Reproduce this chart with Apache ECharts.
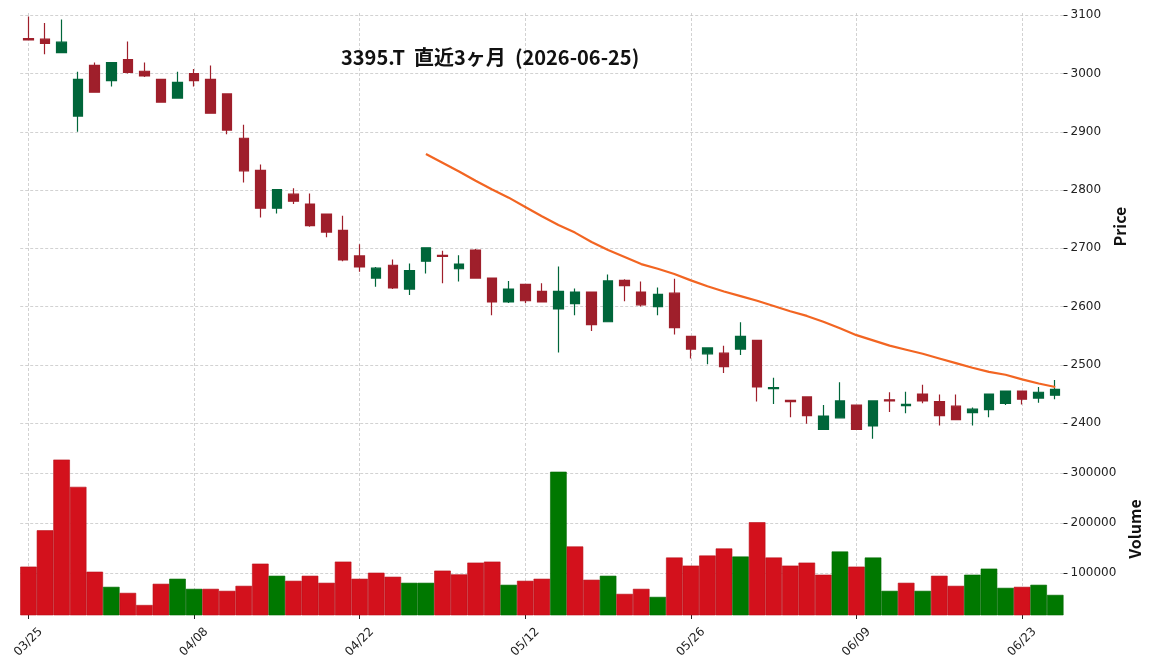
<!DOCTYPE html>
<html>
<head>
<meta charset="utf-8">
<title>3395.T</title>
<script src="https://cdn.jsdelivr.net/npm/echarts@6.0.0/dist/echarts.min.js"></script>
<style>
  html, body { margin: 0; padding: 0; background: #fff; }
  #chart { width: 1152px; height: 672px; }
</style>
</head>
<body>
<div id="chart"></div>
<script>
// 日付（取引日）
var dates = ['03/25','03/26','03/27','03/30','03/31','04/01','04/02','04/03','04/06','04/07',
  '04/08','04/09','04/10','04/13','04/14','04/15','04/16','04/17','04/20','04/21',
  '04/22','04/23','04/24','04/27','04/28','04/30','05/01','05/07','05/08','05/11',
  '05/12','05/13','05/14','05/15','05/18','05/19','05/20','05/21','05/22','05/25',
  '05/26','05/27','05/28','05/29','06/01','06/02','06/03','06/04','06/05','06/08',
  '06/09','06/10','06/11','06/12','06/15','06/16','06/17','06/18','06/19','06/22',
  '06/23','06/24','06/25'];

var opens = [3060,3059,3036,2927,3014,2988,3024,3004,2990,2958,
  3000,2990,2965,2889,2834,2769,2793,2776,2759,2731,
  2687,2649,2671,2630,2678,2688,2665,2697,2649,2608,
  2638,2626,2596,2605,2625,2574,2645,2625,2600,2623,
  2549,2519,2520,2527,2542,2459,2439,2445,2389,2409,
  2431,2395,2440,2430,2450,2437,2429,2418,2423,2434,
  2455,2443,2448];
var closes = [3058,3052,3054,2990,2968,3019,3002,2996,2951,2985,
  2988,2932,2903,2833,2769,2801,2781,2739,2728,2680,
  2668,2666,2632,2662,2701,2686,2673,2649,2608,2630,
  2610,2608,2626,2625,2569,2644,2636,2603,2621,2564,
  2527,2529,2497,2549,2462,2461,2437,2413,2412,2438,
  2389,2438,2438,2432,2438,2413,2406,2424,2450,2455,
  2441,2453,2458];
var lows = [3057,3033,3036,2900,2967,2978,3000,2994,2951,2958,
  2978,2932,2896,2813,2753,2760,2776,2737,2719,2678,
  2660,2634,2630,2620,2657,2640,2643,2649,2585,2606,
  2606,2608,2521,2585,2558,2574,2609,2600,2585,2552,
  2511,2501,2486,2517,2437,2433,2410,2399,2389,2409,
  2389,2373,2419,2417,2434,2396,2405,2396,2410,2431,
  2432,2435,2441];
var highs = [3098,3087,3093,3003,3019,3020,3055,3019,2990,3003,
  3008,3014,2966,2912,2844,2802,2803,2794,2760,2756,
  2707,2668,2681,2674,2701,2696,2688,2699,2650,2644,
  2639,2640,2669,2631,2626,2655,2647,2643,2633,2648,
  2549,2530,2533,2573,2543,2478,2440,2446,2431,2470,
  2431,2438,2453,2454,2466,2449,2449,2427,2451,2456,
  2456,2462,2474];

// 25日移動平均（24日目から）
var ma25 = [2862,2847,2832,2816,2801,2787,2771,2755,2740,2727,
  2711,2697,2685,2673,2665,2656,2645,2635,2626,2618,
  2610,2601,2592,2584,2574,2563,2551,2542,2533,2526,
  2519,2511,2503,2495,2488,2483,2475,2468,2462];
var maStart = 24;

var volumes = [112700,185400,326800,272300,102600,72300,60200,36000,78400,88500,
  68300,68300,64300,74300,118700,94500,84400,94500,80400,122800,
  88500,100600,92500,80400,80400,104700,97200,120800,122800,76400,
  84400,88500,302600,153100,86500,94500,58200,68300,52200,130900,
  114700,134900,149100,132900,201600,130900,114700,120800,96600,143000,
  112700,130900,64300,80400,64300,94500,74300,96600,108700,70300,
  72300,76400,56200];
// 1 = 前日比上昇（緑）, 0 = 下落（赤）
var volUp = [0,0,0,0,0,1,0,0,0,1,
  1,0,0,0,0,1,0,0,0,0,
  0,0,0,1,1,0,0,0,0,1,
  0,0,1,0,0,1,0,0,1,0,
  0,0,0,1,0,0,0,0,0,1,
  0,1,1,0,1,0,0,1,1,1,
  0,1,1];

var priceTicks = [2400,2500,2600,2700,2800,2900,3000,3100];
var volTicks = [100000,200000,300000];

var chart = echarts.init(document.getElementById('chart'));

var gridLine = { type: [3, 2], color: '#c6c6c6', width: 0.8 };
var tickFont = { fontFamily: 'DejaVu Sans', fontSize: 12, color: '#222' };
var nameFont = { fontFamily: 'Noto Sans CJK JP', fontWeight: 'bold', fontSize: 16, color: '#111' };
var plain = function (v) { return String(v); };

var candleData = dates.map(function (d, i) {
  return [opens[i], closes[i], lows[i], highs[i]];
});
var maData = dates.map(function (d, i) {
  return i < maStart ? null : ma25[i - maStart];
});
var volData = volumes.map(function (v, i) {
  return { value: v, itemStyle: { color: volUp[i] ? '#007800' : '#d3111c', borderColor: volUp[i] ? '#006a00' : '#b80f18' } };
});

var option = {
  animation: false,
  backgroundColor: '#fff',
  title: {
    text: '3395.T  直近3ヶ月  (2026-06-25)',
    left: 341, top: 47, padding: 0,
    textStyle: { fontFamily: 'Noto Sans CJK JP', fontWeight: 'bold', fontSize: 20, color: '#111' }
  },
  grid: [
    { left: 20.2, right: 88.5, top: 13, height: 427 },
    { left: 20.2, right: 88.5, top: 443, height: 172 }
  ],
  xAxis: [{
    type: 'category', gridIndex: 0, data: dates,
    axisLine: { show: false }, axisTick: { show: false }, axisLabel: { show: false },
    splitLine: { show: true, interval: 9, alignWithLabel: true, lineStyle: gridLine }
  }, {
    type: 'category', gridIndex: 1, data: dates,
    axisLine: { show: false },
    axisTick: { show: true, interval: 9, alignWithLabel: true, length: 4, lineStyle: { color: '#222' } },
    axisLabel: Object.assign({ interval: 9, rotate: 45, margin: 27, align: 'center', verticalAlign: 'middle' }, tickFont),
    splitLine: { show: true, interval: 9, alignWithLabel: true, lineStyle: gridLine }
  }],
  yAxis: [{
    type: 'value', gridIndex: 0, position: 'right', min: 2371, max: 3104,
    axisLine: { show: false },
    axisTick: { show: true, length: 4, customValues: priceTicks, lineStyle: { color: '#222' } },
    axisLabel: Object.assign({ customValues: priceTicks, margin: 7, formatter: plain }, tickFont),
    splitLine: { show: true, lineStyle: gridLine },
    name: 'Price', nameLocation: 'middle', nameGap: 39, nameTextStyle: nameFont
  }, {
    type: 'value', gridIndex: 1, position: 'right', min: 16000, max: 360000,
    axisLine: { show: false },
    axisTick: { show: true, length: 4, customValues: volTicks, lineStyle: { color: '#222' } },
    axisLabel: Object.assign({ customValues: volTicks, margin: 7, formatter: plain }, tickFont),
    splitLine: { show: true, lineStyle: gridLine },
    name: 'Volume', nameLocation: 'middle', nameGap: 55, nameTextStyle: nameFont
  }],
  series: [{
    type: 'candlestick', xAxisIndex: 0, yAxisIndex: 0,
    data: candleData, barWidth: 10,
    itemStyle: { color: '#00663a', color0: '#9f1f2b', borderColor: '#00663a', borderColor0: '#9f1f2b', borderWidth: 1.2 }
  }, {
    type: 'line', xAxisIndex: 0, yAxisIndex: 0,
    data: maData, showSymbol: false, symbol: 'none', z: 5,
    lineStyle: { color: '#f26522', width: 2.2 }
  }, {
    type: 'bar', xAxisIndex: 1, yAxisIndex: 1,
    data: volData, barCategoryGap: '0%',
    itemStyle: { borderWidth: 0.6 }
  }]
};
chart.setOption(option);
</script>
</body>
</html>
